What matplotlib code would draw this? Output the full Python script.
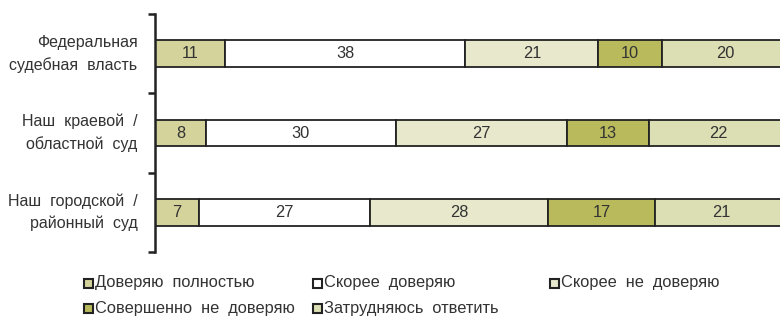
import matplotlib.pyplot as plt
from matplotlib.patches import Rectangle
import numpy as np

plt.rcParams['font.family'] = ['Liberation Sans', 'DejaVu Sans']

categories = ['Федеральная\nсудебная  власть',
              'Наш  краевой  /\nобластной  суд',
              'Наш  городской  /\nрайонный  суд']
series = ['Доверяю  полностью', 'Скорее  доверяю', 'Скорее  не  доверяю',
          'Совершенно  не  доверяю', 'Затрудняюсь  ответить']
values = np.array([
    [11, 38, 21, 10, 20],
    [8, 30, 27, 13, 22],
    [7, 27, 28, 17, 21],
])
colors = ['#d4d39b', '#ffffff', '#e8e8cd', '#b8ba5c', '#dcdfb4']

fig = plt.figure(figsize=(7.8, 3.18), dpi=100)
ax = fig.add_axes([155 / 780, 66 / 318, 625 / 780, 238 / 318])

y = np.arange(len(categories))
left = np.zeros(len(categories))
for j, name in enumerate(series):
    ax.barh(y, values[:, j], left=left, height=0.335, color=colors[j],
            edgecolor='#222222', linewidth=1.3, zorder=2)
    for i in range(len(categories)):
        ax.text(left[i] + values[i, j] / 2, y[i], str(values[i, j]),
                ha='center', va='center', fontsize=11.8, color='#333333', zorder=3)
    left += values[:, j]

ax.set_xlim(0, 98.7)
ax.set_ylim(2.5, -0.5)
ax.set_yticks([-0.5, 0.5, 1.5, 2.5])
ax.set_yticklabels([])
ax.tick_params(axis='y', length=5, width=1.8, color='#222222', direction='out')
for i, c in enumerate(categories):
    ax.text(-0.028, y[i], c, transform=ax.get_yaxis_transform(), ha='right', va='center',
            multialignment='right', fontsize=11.5, color='#333333', linespacing=1.55)
ax.set_xticks([])
for s in ['top', 'right', 'bottom']:
    ax.spines[s].set_visible(False)
ax.spines['left'].set_linewidth(1.8)
ax.spines['left'].set_color('#222222')

# legend, laid out in rows like the original
leg_pos = [(84, 283), (313, 283), (550, 283), (84, 308), (313, 308)]
for j, name in enumerate(series):
    x0, y0 = leg_pos[j]
    fig.patches.append(Rectangle((x0 / 780, 1 - (y0 + 4.5) / 318), 9 / 780, 9 / 318,
                                 transform=fig.transFigure, facecolor=colors[j],
                                 edgecolor='#222222', linewidth=1.5))
    fig.text((x0 + 11) / 780, 1 - y0 / 318, name, ha='left', va='center',
             fontsize=11.8, color='#333333')

fig.savefig('out.png', dpi=100)
